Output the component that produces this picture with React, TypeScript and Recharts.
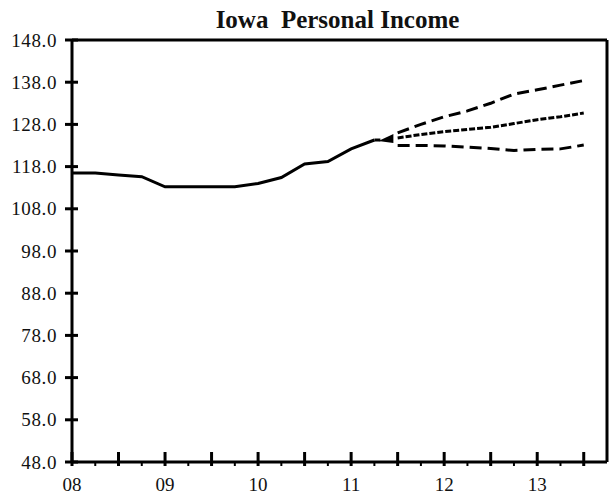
import React from 'react';
import { LineChart, Line, XAxis, YAxis, ReferenceLine } from 'recharts';

const histQuarters = [8, 8.25, 8.5, 8.75, 9, 9.25, 9.5, 9.75, 10, 10.25, 10.5, 10.75, 11, 11.25];
const histValues = [116.5, 116.5, 116.0, 115.6, 113.2, 113.2, 113.2, 113.2, 114.0, 115.4, 118.6, 119.2, 122.2, 124.3];

const fcQuarters = [11.5, 11.75, 12, 12.25, 12.5, 12.75, 13, 13.25, 13.5];
const highValues = [126.0, 128.0, 129.8, 131.2, 133.0, 135.2, 136.2, 137.3, 138.4];
const midValues = [124.8, 125.6, 126.3, 126.8, 127.3, 128.2, 129.1, 129.8, 130.7];
const lowValues = [123.0, 123.0, 122.9, 122.6, 122.3, 121.8, 122.1, 122.2, 123.1];

const yTicks = [48, 58, 68, 78, 88, 98, 108, 118, 128, 138, 148];
const xTicks = [8, 8.25, 8.5, 8.75, 9, 9.25, 9.5, 9.75, 10, 10.25, 10.5, 10.75, 11, 11.25, 11.5, 11.75, 12, 12.25, 12.5, 12.75, 13, 13.25, 13.5];
const xLabels: Record<number, string> = { 8: '08', 9: '09', 10: '10', 11: '11', 12: '12', 13: '13' };

const allQuarters = Array.from(new Set([...histQuarters, ...fcQuarters])).sort((a, b) => a - b);
const data = allQuarters.map((t) => {
  const hi = histQuarters.indexOf(t);
  const fi = fcQuarters.indexOf(t);
  return {
    t,
    hist: hi >= 0 ? histValues[hi] : null,
    high: fi >= 0 ? highValues[fi] : null,
    mid: fi >= 0 ? midValues[fi] : null,
    low: fi >= 0 ? lowValues[fi] : null,
  };
});

const FONT = 'Liberation Serif';

const YTick = (props: any) => {
  const { x, y, payload } = props;
  return (
    <g>
      <line x1={x - 7} x2={x + 6} y1={y} y2={y} stroke="#000" strokeWidth={3} />
      <text x={x - 15} y={y} dy="0.35em" textAnchor="end" style={{ fontFamily: FONT }} fontSize={19} letterSpacing={0.6} fill="#111">
        {Number(payload.value).toFixed(1)}
      </text>
    </g>
  );
};

const XTick = (props: any) => {
  const { x, y, payload } = props;
  const v = Number(payload.value);
  const isHalf = Math.abs(v * 2 - Math.round(v * 2)) < 1e-6;
  const label = xLabels[v];
  return (
    <g>
      {isHalf ? (
        <line x1={x} x2={x} y1={y - 10} y2={y + 4} stroke="#000" strokeWidth={3} />
      ) : (
        <line x1={x} x2={x} y1={y} y2={y + 4} stroke="#000" strokeWidth={2} />
      )}
      {label ? (
        <text x={x} y={y + 22} dy="0.35em" textAnchor="middle" style={{ fontFamily: FONT }} fontSize={19} fill="#111">
          {label}
        </text>
      ) : null}
    </g>
  );
};

const ArrowDot = (props: any) => {
  const { cx, cy, index } = props;
  if (index !== histQuarters.length - 1 || cx == null || cy == null) return <g key={`d${index}`} />;
  return (
    <g key={`d${index}`}>
      <line x1={cx} y1={cy} x2={cx + 6} y2={cy} stroke="#000" strokeWidth={3} />
      <polygon points={`${cx + 4},${cy + 1} ${cx + 19},${cy - 6} ${cx + 19},${cy + 3}`} fill="#000" />
    </g>
  );
};

export default function App() {
  return (
    <div style={{ position: 'absolute', left: 0, top: 0, width: 610, height: 498, background: '#fff' }}>
      <div
        style={{
          position: 'absolute',
          left: 0,
          top: 7,
          width: 675,
          textAlign: 'center',
          fontFamily: FONT,
          fontWeight: 'bold',
          fontSize: 25,
          lineHeight: '25px',
          color: '#111',
          whiteSpace: 'pre',
        }}
      >
        {'Iowa  Personal Income'}
      </div>
      <LineChart width={610} height={498} data={data} margin={{ top: 40, right: 3, bottom: 0, left: 0 }}>
        <XAxis
          dataKey="t"
          type="number"
          domain={[8, 13.75]}
          ticks={xTicks}
          interval={0}
          tickSize={0}
          tickMargin={0}
          height={36}
          axisLine={{ stroke: '#000', strokeWidth: 3 }}
          tick={<XTick />}
          allowDataOverflow
        />
        <YAxis
          type="number"
          domain={[48, 148]}
          ticks={yTicks}
          interval={0}
          tickSize={0}
          tickMargin={0}
          width={72}
          axisLine={{ stroke: '#000', strokeWidth: 3 }}
          tick={<YTick />}
          allowDataOverflow
        />
        <ReferenceLine y={148} stroke="#000" strokeWidth={3} />
        <ReferenceLine x={13.75} stroke="#000" strokeWidth={3} />
        <Line dataKey="hist" type="linear" stroke="#000" strokeWidth={3} dot={ArrowDot} activeDot={false} isAnimationActive={false} />
        <Line dataKey="high" type="linear" stroke="#000" strokeWidth={3} strokeDasharray="12 6" dot={false} activeDot={false} isAnimationActive={false} />
        <Line dataKey="mid" type="linear" stroke="#000" strokeWidth={3} strokeDasharray="6 2" dot={false} activeDot={false} isAnimationActive={false} />
        <Line dataKey="low" type="linear" stroke="#000" strokeWidth={3} strokeDasharray="12 6" dot={false} activeDot={false} isAnimationActive={false} />
      </LineChart>
    </div>
  );
}
